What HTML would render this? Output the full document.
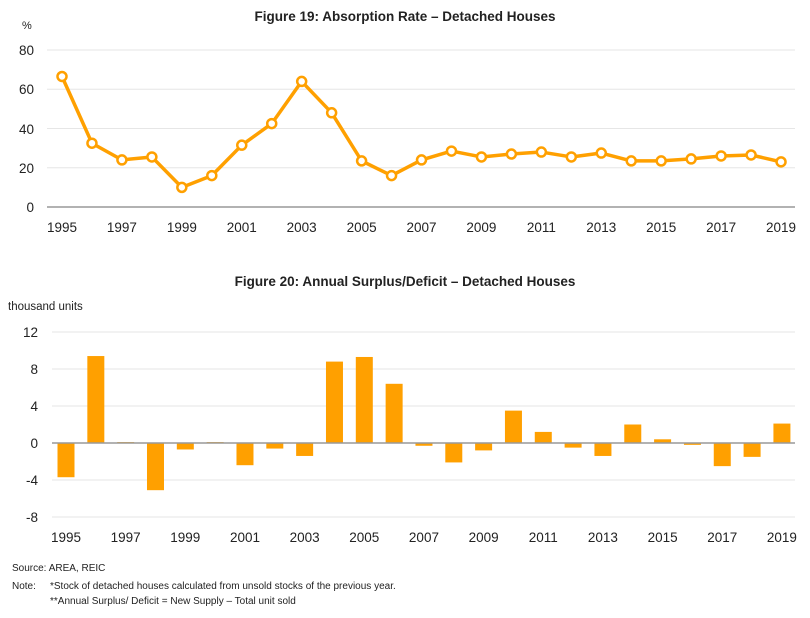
<!DOCTYPE html>
<html><head><meta charset="utf-8"><style>
body{margin:0;background:#fff;}
svg text{font-family:"Liberation Sans Narrow","Liberation Sans",sans-serif;fill:#222;}
</style></head><body>
<svg width="810" height="613" viewBox="0 0 810 613" xmlns="http://www.w3.org/2000/svg">
<text x="405" y="21" text-anchor="middle" font-size="13.5" font-weight="bold">Figure 19: Absorption Rate – Detached Houses</text>
<text x="22" y="29" font-size="11">%</text>
<g stroke="#e6e6e6" stroke-width="1">
<line x1="47" y1="50" x2="795" y2="50"/><line x1="47" y1="89.25" x2="795" y2="89.25"/><line x1="47" y1="128.5" x2="795" y2="128.5"/><line x1="47" y1="167.75" x2="795" y2="167.75"/>
</g>
<line x1="47" y1="207" x2="795" y2="207" stroke="#999" stroke-width="1.5"/>
<g font-size="13.5" text-anchor="end">
<text x="34" y="55">80</text><text x="34" y="94">60</text><text x="34" y="134">40</text><text x="34" y="173">20</text><text x="34" y="212">0</text>
</g>
<g font-size="13.5" text-anchor="middle" id="x1"></g>
<polyline id="ln" fill="none" stroke="#FFA000" stroke-width="3.5" stroke-linejoin="round"/>
<g id="pts"></g>

<text x="405" y="286" text-anchor="middle" font-size="13.5" font-weight="bold">Figure 20: Annual Surplus/Deficit – Detached Houses</text>
<text x="8" y="310" font-size="11.5">thousand units</text>
<g stroke="#e6e6e6" stroke-width="1">
<line x1="52" y1="332" x2="795" y2="332"/><line x1="52" y1="369" x2="795" y2="369"/><line x1="52" y1="406" x2="795" y2="406"/><line x1="52" y1="480" x2="795" y2="480"/><line x1="52" y1="517" x2="795" y2="517"/>
</g>
<g font-size="13.5" text-anchor="end">
<text x="38" y="337">12</text><text x="38" y="374">8</text><text x="38" y="411">4</text><text x="38" y="448">0</text><text x="38" y="485">-4</text><text x="38" y="522">-8</text>
</g>
<g id="bars"></g>
<line x1="52" y1="443" x2="795" y2="443" stroke="#999" stroke-width="1.5"/>
<g font-size="13.5" text-anchor="middle" id="x2"></g>

<text x="12" y="571" font-size="10">Source:   AREA, REIC</text>
<text x="12" y="589" font-size="10">Note:</text>
<text x="50" y="589" font-size="10">*Stock of detached houses calculated from unsold stocks of the previous year.</text>
<text x="50" y="604" font-size="10">**Annual Surplus/ Deficit = New Supply – Total unit sold</text>
</svg>
<script>
(function(){
var ns="http://www.w3.org/2000/svg";
var a=[66.5,32.5,24,25.5,10,16,31.5,42.5,64,48,23.5,16,24,28.5,25.5,27,28,25.5,27.5,23.5,23.5,24.5,26,26.5,23];
var b=[-3.7,9.4,0.1,-5.1,-0.7,0.1,-2.4,-0.6,-1.4,8.8,9.3,6.4,-0.3,-2.1,-0.8,3.5,1.2,-0.5,-1.4,2.0,0.4,-0.2,-2.5,-1.5,2.1];
function el(t,at,p,txt){var e=document.createElementNS(ns,t);for(var k in at)e.setAttribute(k,at[k]);if(txt)e.textContent=txt;document.getElementById(p).appendChild(e);}
var pts=[];
for(var i=0;i<25;i++){var x=62+i*29.96,y=207-a[i]*1.9625;pts.push(x+","+y);
el("circle",{cx:x,cy:y,r:4.5,fill:"#fff",stroke:"#FFA000","stroke-width":2.5},"pts");
if(i%2==0){el("text",{x:x,y:232},"x1",String(1995+i));}
var bx=66+i*29.83,v=b[i],h=Math.abs(v)*9.25,by=v>0?443-h:443;
el("rect",{x:bx-8.5,y:by,width:17,height:Math.max(h,1),fill:"#FFA000"},"bars");
if(i%2==0){el("text",{x:bx,y:542},"x2",String(1995+i));}
}
document.getElementById("ln").setAttribute("points",pts.join(" "));
})();
</script>
</body></html>
